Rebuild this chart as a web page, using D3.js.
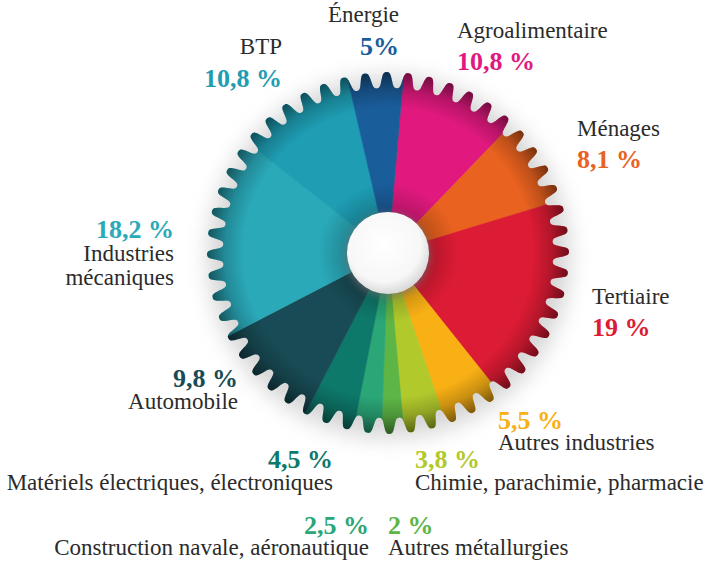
<!DOCTYPE html>
<html lang="fr">
<head>
<meta charset="UTF-8"/>
<title>Répartition par secteur</title>
<script src="https://d3js.org/d3.v7.min.js"></script>
<style>
  body { margin: 0; background: #fff; }
  svg text { font-family: "Liberation Serif", "Times New Roman", serif; }
  .cat { font-size: 23px; fill: #2b2b2b; }
  .pct { font-size: 26px; font-weight: bold; }
</style>
</head>
<body>
<script>
// data, clockwise from the top
var sectors = ["Agroalimentaire", "Ménages", "Tertiaire", "Autres industries",
               "Chimie, parachimie, pharmacie", "Autres métallurgies",
               "Construction navale, aéronautique", "Matériels électriques, électroniques",
               "Automobile", "Industries mécaniques", "BTP", "Énergie"];
var shares = [10.8, 8.1, 19, 5.5, 3.8, 2, 2.5, 4.5, 9.8, 18.2, 10.8, 5];
var shareLabels = ["10,8 %", "8,1 %", "19 %", "5,5 %", "3,8 %", "2 %",
                   "2,5 %", "4,5 %", "9,8 %", "18,2 %", "10,8 %", "5%"];
var colors = ["#e1197e", "#e9621f", "#dc1b34", "#f8b015", "#b2c92c", "#5db546",
              "#2aa677", "#0d796b", "#184b55", "#2aa9b9", "#1e9db3", "#1a5d9b"];

var w = 712, h = 562;
var cx = 388, cy = 253;
var rTip = 181, rRoot = 165, rHole = 41;
var teeth = 52;

var svg = d3.select("body").append("svg")
    .attr("width", w)
    .attr("height", h);

var defs = svg.append("defs");

// gear outline
function gearRadius(a) {
    var k = 1.6;
    var s = Math.tanh(k * Math.cos(teeth * a + 0.4)) / Math.tanh(k);
    return rRoot + (rTip - rRoot) * (0.5 + 0.5 * s);
}
var gearPts = d3.range(0, 2 * Math.PI, Math.PI / 1200);
var gearLine = d3.lineRadial()
    .angle(function(a) { return a; })
    .radius(function(a) { return gearRadius(a); })
    .curve(d3.curveLinearClosed);
var gearPath = gearLine(gearPts);

defs.append("clipPath").attr("id", "gearClip")
    .append("path").attr("d", gearPath);

var blur = defs.append("filter").attr("id", "soft")
    .attr("x", "-20%").attr("y", "-20%").attr("width", "140%").attr("height", "140%");
blur.append("feGaussianBlur").attr("stdDeviation", 8);

var small = defs.append("filter").attr("id", "soft2")
    .attr("x", "-50%").attr("y", "-50%").attr("width", "200%").attr("height", "200%");
small.append("feGaussianBlur").attr("stdDeviation", 3);

var rim = defs.append("radialGradient").attr("id", "rim")
    .attr("gradientUnits", "userSpaceOnUse")
    .attr("cx", 0).attr("cy", 0).attr("r", rTip);
rim.append("stop").attr("offset", 0.8).attr("stop-color", "#000").attr("stop-opacity", 0);
rim.append("stop").attr("offset", 0.9).attr("stop-color", "#000").attr("stop-opacity", 0.18);
rim.append("stop").attr("offset", 1).attr("stop-color", "#000").attr("stop-opacity", 0.5);

var inner = defs.append("radialGradient").attr("id", "inner")
    .attr("gradientUnits", "userSpaceOnUse")
    .attr("cx", 0).attr("cy", 0).attr("r", 70);
inner.append("stop").attr("offset", 0.55).attr("stop-color", "#000").attr("stop-opacity", 0.22);
inner.append("stop").attr("offset", 1).attr("stop-color", "#000").attr("stop-opacity", 0);

var holeGrad = defs.append("radialGradient").attr("id", "hole")
    .attr("cx", 0.45).attr("cy", 0.4).attr("r", 0.6);
holeGrad.append("stop").attr("offset", 0).attr("stop-color", "#ffffff");
holeGrad.append("stop").attr("offset", 0.75).attr("stop-color", "#f7f7f7");
holeGrad.append("stop").attr("offset", 1).attr("stop-color", "#d9d9d9");

var g = svg.append("g").attr("transform", "translate(" + cx + "," + cy + ")");

// soft shadow behind the gear
g.append("path")
    .attr("d", gearPath)
    .attr("transform", "translate(1,4) scale(1.04)")
    .attr("fill", "#a8a8a8")
    .attr("opacity", 0.5)
    .attr("filter", "url(#soft)");

var pie = d3.pie()
    .sort(null)
    .value(function(d) { return d; })
    .startAngle(5 * Math.PI / 180)
    .endAngle(5 * Math.PI / 180 + 2 * Math.PI);

var arc = d3.arc()
    .innerRadius(0)
    .outerRadius(rTip + 4);

var body = g.append("g").attr("clip-path", "url(#gearClip)");

body.selectAll("path.slice")
    .data(pie(shares))
    .enter()
    .append("path")
    .attr("class", "slice")
    .attr("d", arc)
    .attr("fill", function(d, i) { return colors[i]; })
    .attr("stroke", function(d, i) { return colors[i]; })
    .attr("stroke-width", 0.6);

body.append("circle").attr("r", rTip).attr("fill", "url(#rim)");
body.append("circle").attr("r", 70).attr("fill", "url(#inner)");

// hole in the middle
g.append("circle")
    .attr("r", rHole + 2)
    .attr("cy", 2)
    .attr("fill", "#777")
    .attr("opacity", 0.5)
    .attr("filter", "url(#soft2)");
g.append("circle")
    .attr("r", rHole)
    .attr("fill", "url(#hole)");

// labels
var labelPos = [
    {x: 457, y: 38, pctY: 70, anchor: "start"},
    {x: 577, y: 136, pctY: 168, anchor: "start"},
    {x: 592, y: 304, pctY: 336, anchor: "start"},
    {x: 498, y: 450, pctY: 429, anchor: "start"},
    {x: 415, y: 490, pctY: 468, anchor: "start"},
    {x: 388, y: 555, pctY: 534, anchor: "start"},
    {x: 369, y: 555, pctY: 534, anchor: "end"},
    {x: 333, y: 490, pctY: 468, anchor: "end"},
    {x: 238, y: 409, pctY: 387, anchor: "end"},
    {x: 174, y: 261, pctY: 238, anchor: "end", lines: ["Industries", "mécaniques"]},
    {x: 282, y: 54, pctY: 87, anchor: "end"},
    {x: 399, y: 22, pctY: 55, anchor: "end"}
];

var labels = svg.append("g");
sectors.forEach(function(s, i) {
    var p = labelPos[i];
    var t = labels.append("text")
        .attr("class", "cat")
        .attr("x", p.x)
        .attr("y", p.y)
        .attr("text-anchor", p.anchor);
    if (p.lines) {
        p.lines.forEach(function(l, j) {
            t.append("tspan").attr("x", p.x).attr("dy", j === 0 ? 0 : 24).text(l);
        });
    } else {
        t.text(s);
    }
    labels.append("text")
        .attr("class", "pct")
        .attr("x", p.x)
        .attr("y", p.pctY)
        .attr("text-anchor", p.anchor)
        .attr("fill", colors[i])
        .text(shareLabels[i]);
});
</script>
</body>
</html>
